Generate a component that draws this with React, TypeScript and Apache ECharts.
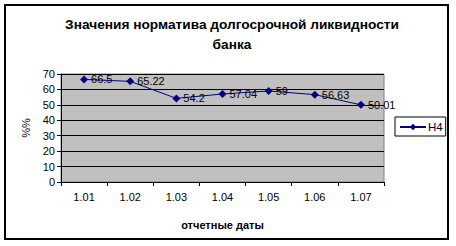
import React, { useEffect, useRef } from "react";
import * as echarts from "echarts";

const categories = ["1.01", "1.02", "1.03", "1.04", "1.05", "1.06", "1.07"];
const values = [66.5, 65.22, 54.2, 57.04, 59, 56.63, 50.01];
const seriesName = "Н4";
const titleText = "Значения норматива долгосрочной ликвидности\nбанка";
const xAxisName = "отчетные даты";
const yAxisName = "%%";

const FONT = "'Liberation Sans', Arial, sans-serif";

export default function App() {
  const ref = useRef<HTMLDivElement>(null);
  useEffect(() => {
    if (!ref.current) return;
    const chart = echarts.init(ref.current, undefined, { renderer: "svg" });
    chart.setOption({
      animation: false,
      backgroundColor: "#ffffff",
      textStyle: { fontFamily: FONT },
      title: {
        text: titleText,
        left: 227,
        textAlign: "center",
        top: 9,
        textStyle: {
          fontFamily: FONT,
          fontSize: 13.7,
          fontWeight: "bold",
          color: "#000",
          lineHeight: 20,
        },
      },
      graphic: [
        {
          type: "rect",
          shape: { x: 5, y: 5, width: 443, height: 234 },
          style: { fill: "none", stroke: "#000", lineWidth: 2 },
          silent: true,
        },
      ],
      legend: {
        left: 395,
        top: 117,
        orient: "vertical",
        backgroundColor: "#fff",
        borderColor: "#000",
        borderWidth: 1,
        borderRadius: 0,
        padding: [4, 3, 3, 4],
        itemWidth: 26,
        itemHeight: 8,
        itemGap: 0,
        textStyle: { fontFamily: FONT, fontSize: 11.5, color: "#000", padding: [0, 0, 0, -3] },
        data: [seriesName],
      },
      grid: {
        left: 61,
        top: 74,
        width: 323,
        height: 108,
        show: true,
        backgroundColor: "#C0C0C0",
        borderColor: "#808080",
        borderWidth: 1,
        containLabel: false,
      },
      xAxis: {
        type: "category",
        data: categories,
        boundaryGap: true,
        name: xAxisName,
        nameLocation: "middle",
        nameGap: 37,
        nameTextStyle: { fontFamily: FONT, fontSize: 11, fontWeight: "bold", color: "#000" },
        axisLine: { lineStyle: { color: "#000", width: 1 } },
        axisTick: { show: true, length: 4, inside: false, alignWithLabel: false, lineStyle: { color: "#000" } },
        axisLabel: { fontFamily: FONT, fontSize: 11, color: "#000", margin: 9 },
        splitLine: { show: false },
      },
      yAxis: {
        type: "value",
        min: 0,
        max: 70,
        interval: 10,
        name: yAxisName,
        nameLocation: "middle",
        nameRotate: 90,
        nameGap: 30,
        nameTextStyle: { fontFamily: FONT, fontSize: 11, color: "#000" },
        axisLine: { show: true, lineStyle: { color: "#000", width: 1 } },
        axisTick: { show: true, length: 4, inside: false, lineStyle: { color: "#000" } },
        axisLabel: { fontFamily: FONT, fontSize: 11, color: "#000", margin: 6 },
        splitLine: { show: true, lineStyle: { color: "#000", width: 1 } },
      },
      series: [
        {
          name: seriesName,
          type: "line",
          data: values,
          symbol: "diamond",
          symbolSize: 8,
          lineStyle: { color: "#000080", width: 1 },
          itemStyle: { color: "#000080" },
          label: {
            show: true,
            position: "right",
            distance: 3,
            fontFamily: FONT,
            fontSize: 11,
            color: "#000",
          },
        },
      ],
    });
    return () => chart.dispose();
  }, []);
  return (
    <div
      ref={ref}
      style={{ position: "fixed", left: 0, top: 0, width: 456, height: 246 }}
    />
  );
}
